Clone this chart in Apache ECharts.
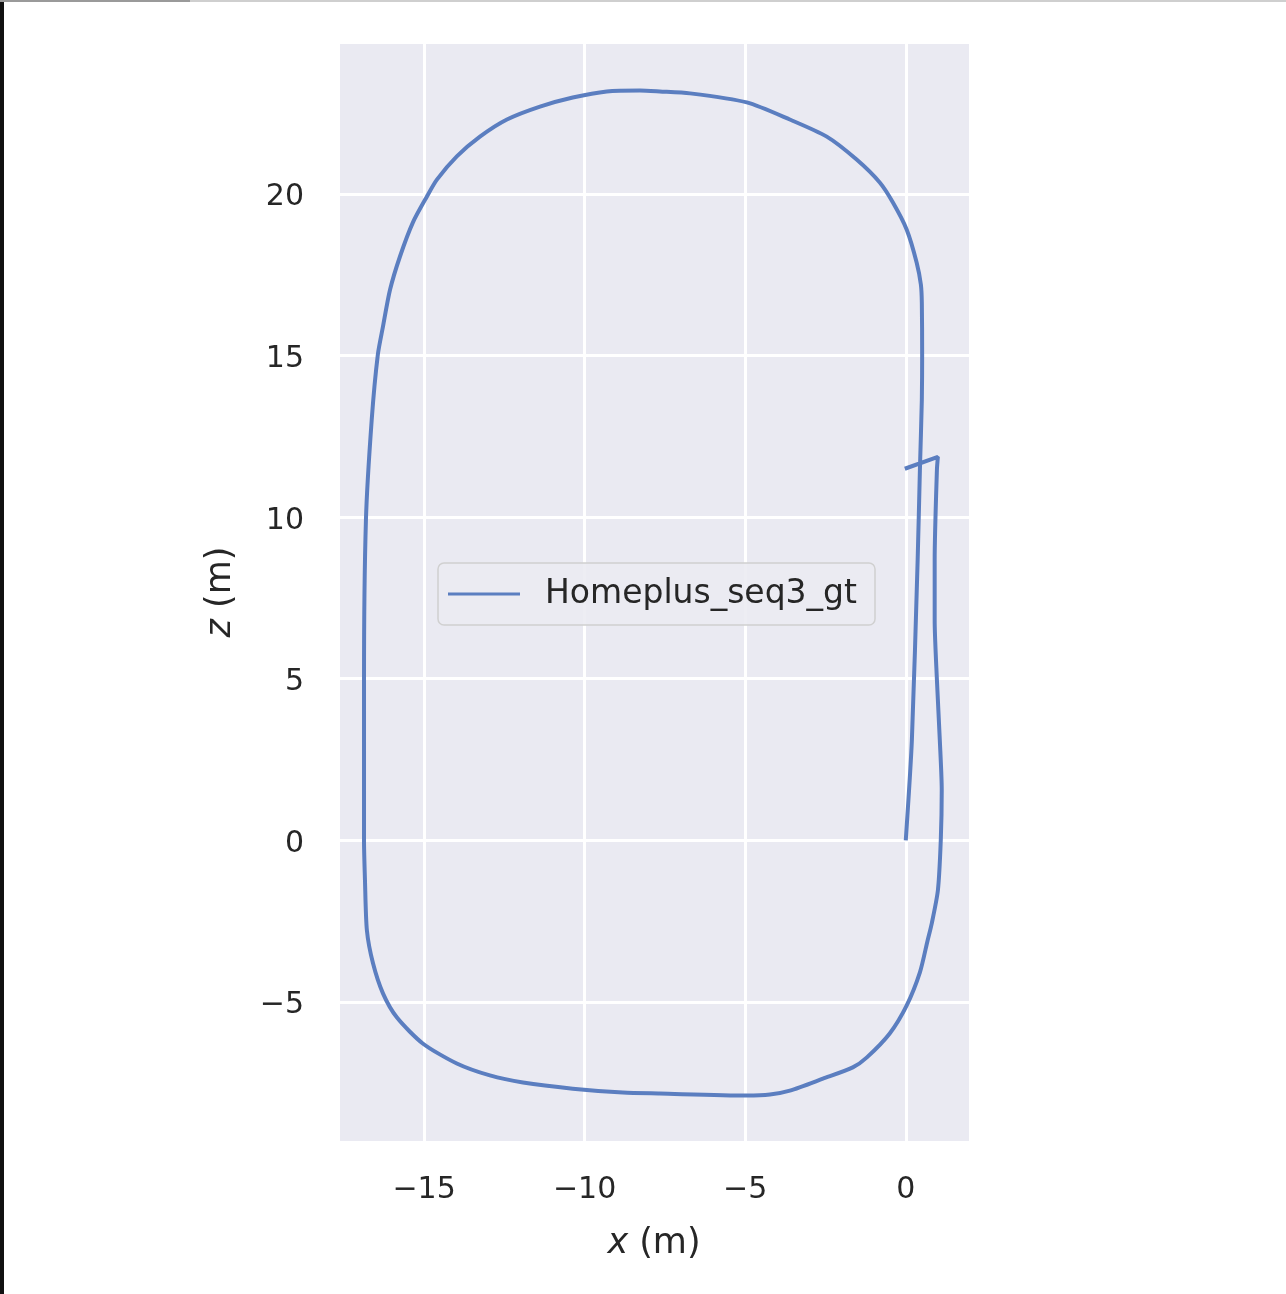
<!DOCTYPE html>
<html>
<head>
<meta charset="utf-8">
<script src="https://cdn.jsdelivr.net/npm/echarts@6/dist/echarts.min.js"></script>
<style>
  html, body { margin: 0; padding: 0; background: #ffffff; }
  #chart { width: 1286px; height: 1294px; }
</style>
</head>
<body>
<div id="chart"></div>
<script>
// Trajectory (x, z) in metres
const seriesName = 'Homeplus_seq3_gt';
const trajX = [
  0.00, 0.19, 0.37, 0.44, 0.50, 0.51, 0.50, 0.47, 0.34, 0.03,
  -0.40, -0.81, -1.53, -2.46, -3.61, -4.95, -6.72, -7.66, -8.28, -9.31,
  -10.37, -11.39, -12.42, -13.26, -13.98, -14.60, -14.91, -15.35, -15.75, -16.06,
  -16.28, -16.44, -16.63, -16.81, -16.87, -16.87, -16.84, -16.78, -16.59, -16.28,
  -15.85, -15.04, -13.98, -12.95, -11.92, -10.37, -8.81, -7.66, -4.95, -4.23,
  -3.61, -2.58, -1.65, -1.21, -0.50, 0.03, 0.44, 0.68, 0.81, 1.00,
  1.09, 1.12, 1.06, 0.97, 0.90, 0.90, 0.97, 1.00, -0.03
];
const trajZ = [
  0.00, 3.10, 8.68, 11.47, 13.63, 15.03, 16.64, 17.20, 17.88, 18.90,
  19.74, 20.36, 21.07, 21.78, 22.31, 22.84, 23.12, 23.18, 23.21, 23.18,
  22.99, 22.71, 22.31, 21.78, 21.17, 20.45, 19.93, 19.12, 18.07, 17.04,
  15.90, 15.03, 13.02, 9.92, 4.96, 0.00, -1.24, -2.79, -3.81, -4.74,
  -5.48, -6.29, -6.91, -7.28, -7.50, -7.69, -7.81, -7.84, -7.90, -7.87,
  -7.75, -7.38, -7.03, -6.72, -5.98, -5.11, -4.09, -3.10, -2.57, -1.55,
  0.00, 1.55, 3.10, 4.96, 6.82, 8.68, 11.47, 11.87, 11.50
];
const xRange = [-17.68, 2.0];
const zRange = [-9.34, 24.71];

const points = trajX.map((x, i) => [x, trajZ[i]]);

const textColor = '#262626';
const chart = echarts.init(document.getElementById('chart'), null, { renderer: 'canvas' });

const fmt = v => (v < 0 ? '\u2212' + Math.abs(v) : String(v));
const fmtY = v => '{a|' + fmt(v) + '}';

chart.setOption({
  animation: false,
  backgroundColor: '#ffffff',
  textStyle: { fontFamily: 'DejaVu Sans' },
  grid: {
    left: 338, top: 42, width: 632, height: 1100,
    containLabel: false,
    show: true, backgroundColor: '#EAEAF2', borderWidth: 0
  },
  legend: {
    data: [seriesName],
    left: 438, top: 563,
    orient: 'horizontal',
    icon: 'rect',
    itemWidth: 72, itemHeight: 3,
    padding: [13, 18, 13, 10],
    backgroundColor: 'rgba(235,235,242,0.9)',
    borderColor: '#d0d0d0', borderWidth: 1.5, borderRadius: 6,
    textStyle: { color: textColor, fontSize: 33, fontFamily: 'DejaVu Sans', lineHeight: 36, padding: [0, 0, 0, 20] }
  },
  xAxis: {
    type: 'value',
    min: xRange[0], max: xRange[1],
    splitNumber: 4,
    name: '{i|x} (m)',
    nameLocation: 'middle',
    nameGap: 84,
    nameTextStyle: { color: textColor, fontSize: 35, fontFamily: 'DejaVu Sans', rich: { i: { fontStyle: 'italic', fontSize: 35, color: textColor, fontFamily: 'DejaVu Sans' } } },
    axisLine: { show: false },
    axisTick: { show: false },
    axisLabel: { color: textColor, fontSize: 30, margin: 33, showMinLabel: false, showMaxLabel: false, formatter: fmt },
    splitLine: { show: true, lineStyle: { color: '#ffffff', width: 3 } }
  },
  yAxis: {
    type: 'value',
    min: zRange[0], max: zRange[1],
    splitNumber: 7,
    name: '{i|z} (m)',
    nameLocation: 'middle',
    nameGap: 100,
    nameRotate: 90,
    nameTextStyle: { color: textColor, fontSize: 35, fontFamily: 'DejaVu Sans', rich: { i: { fontStyle: 'italic', fontSize: 35, color: textColor, fontFamily: 'DejaVu Sans' } } },
    axisLine: { show: false },
    axisTick: { show: false },
    axisLabel: {
      color: textColor, fontSize: 30, margin: 34, showMinLabel: false, showMaxLabel: false, formatter: fmtY,
      rich: { a: { fontSize: 30, color: textColor, fontFamily: 'DejaVu Sans', padding: [7, 0, 0, 0] } }
    },
    splitLine: { show: true, lineStyle: { color: '#ffffff', width: 3 } }
  },
  graphic: [
    { type: 'rect', left: 0, top: 0, shape: { width: 4, height: 1294 }, style: { fill: '#111111' }, silent: true },
    { type: 'rect', left: 0, top: 0, shape: { width: 1286, height: 2 }, style: { fill: '#cfcfcf' }, silent: true },
    { type: 'rect', left: 0, top: 0, shape: { width: 190, height: 2 }, style: { fill: '#9a9a9a' }, silent: true }
  ],
  series: [{
    name: seriesName,
    type: 'line',
    data: points,
    showSymbol: false,
    symbol: 'none',
    smooth: 0.25,
    clip: true,
    lineStyle: { color: '#5B7EC0', width: 4 },
    itemStyle: { color: '#5B7EC0' }
  }]
});
</script>
</body>
</html>
